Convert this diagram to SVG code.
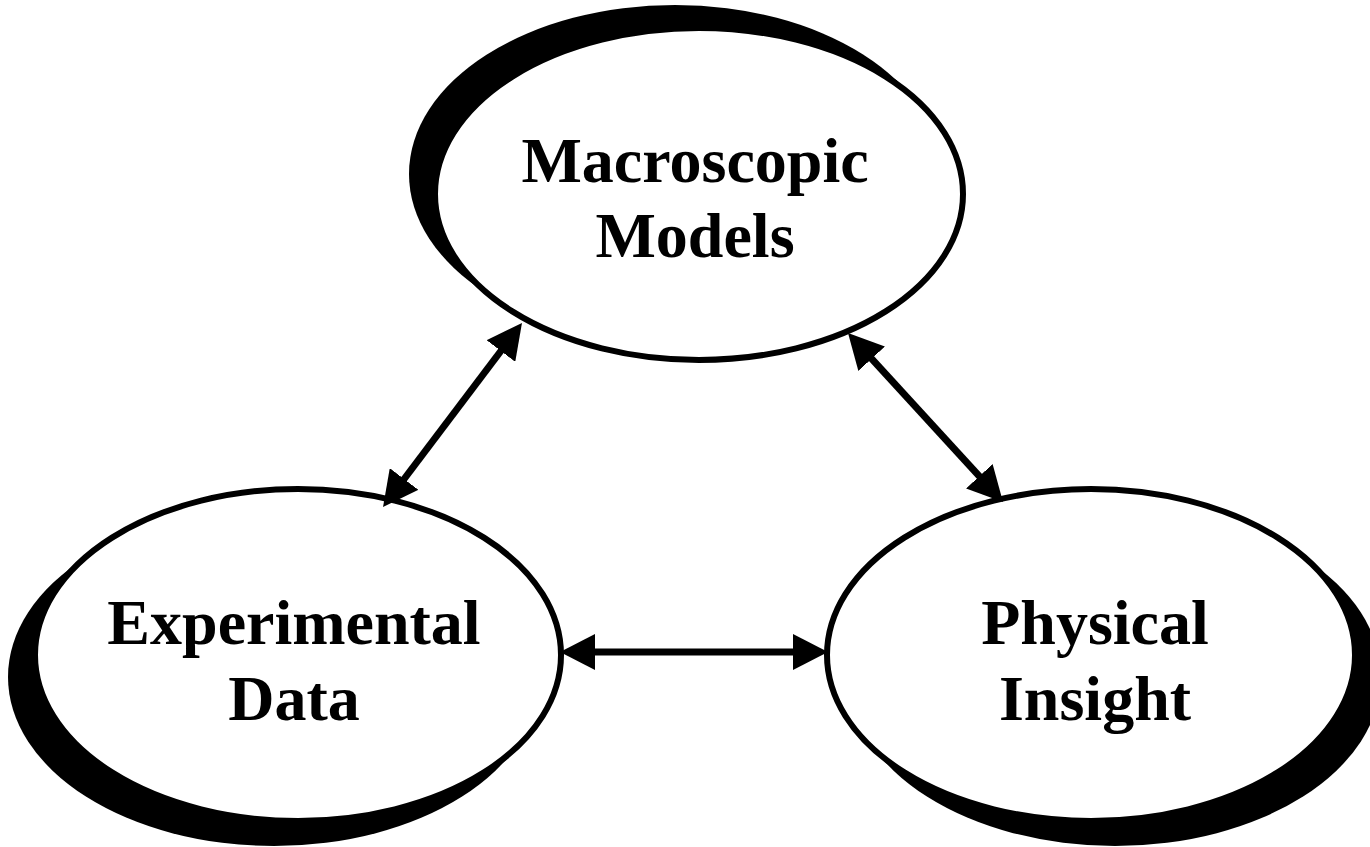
<svg xmlns="http://www.w3.org/2000/svg" width="1370" height="847" viewBox="0 0 1370 847">
  <style>
    .shadow { fill: #000; stroke: none; }
    .node { fill: #fff; stroke: #000; stroke-width: 6; }
    .label { font-family: "Liberation Serif", "Times New Roman", serif; font-weight: bold; font-size: 64px; fill: #000; text-anchor: middle; }
    .conn { stroke: #000; stroke-width: 7; fill: none; marker-start: url(#arrow); marker-end: url(#arrow); }
  </style>
  <defs>
    <marker id="arrow" markerUnits="userSpaceOnUse" viewBox="0 0 35 36" refX="10" refY="18" markerWidth="35" markerHeight="36" orient="auto-start-reverse">
      <path d="M0,0 L35,18 L0,36 Z" fill="#000"/>
    </marker>
  </defs>
  <rect width="1370" height="847" fill="#fff"/>

  <g id="node-macroscopic">
    <ellipse class="shadow" cx="675" cy="174" rx="266" ry="169"/>
    <ellipse class="node" cx="699" cy="194" rx="264" ry="166"/>
    <text class="label" x="695" y="182">Macroscopic</text>
    <text class="label" x="695" y="257">Models</text>
  </g>

  <g id="node-experimental">
    <ellipse class="shadow" cx="274" cy="677" rx="266" ry="169"/>
    <ellipse class="node" cx="298" cy="655" rx="263" ry="166"/>
    <text class="label" x="294" y="644">Experimental</text>
    <text class="label" x="294" y="720">Data</text>
  </g>

  <g id="node-physical">
    <ellipse class="shadow" cx="1115" cy="677" rx="266" ry="169"/>
    <ellipse class="node" cx="1091" cy="655" rx="264" ry="166"/>
    <text class="label" x="1095" y="644">Physical</text>
    <text class="label" x="1095" y="720">Insight</text>
  </g>

  <g id="connectors">
    <line class="conn" x1="398.1" y1="487" x2="506.9" y2="343"/>
    <line class="conn" x1="864.9" y1="351.4" x2="986.1" y2="483.6"/>
    <line class="conn" x1="585" y1="652" x2="803" y2="652"/>
  </g>
</svg>
